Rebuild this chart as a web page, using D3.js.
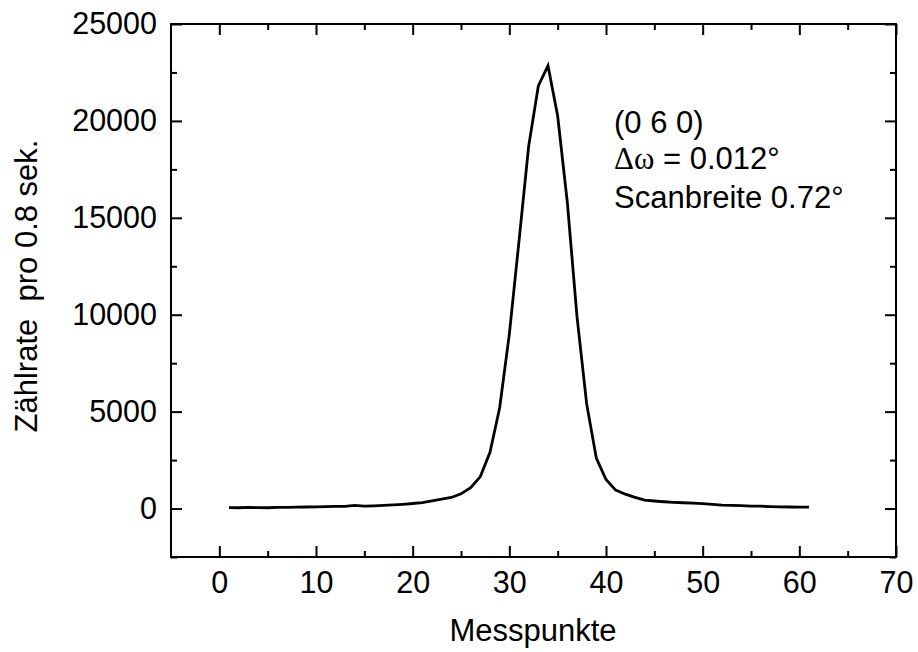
<!DOCTYPE html>
<html>
<head>
<meta charset="utf-8">
<script src="https://cdn.jsdelivr.net/npm/d3@7"></script>
<style>
  body { margin: 0; background: #fff; }
  svg text { font-family: "Liberation Sans", Arial, sans-serif; fill: #000; }
</style>
</head>
<body>
<div id="chart"></div>
<script>

// Messpunkte 1..61
let messpunkte = d3.range(1, 62);
// Zählrate pro 0.8 sek.
let zaehlrate = [
	50, 40, 60, 50, 40, 60, 60, 70, 80, 90,
	100, 110, 110, 160, 120, 140, 160, 190, 220, 260,
	310, 400, 480, 570, 760, 1080, 1650, 2900, 5200, 9000,
	13800, 18700, 21800, 22850, 20250, 15800, 9900, 5400, 2600, 1500,
	950, 740, 580, 430, 390, 350, 320, 300, 280, 250,
	220, 180, 160, 150, 130, 120, 100, 90, 80, 70,
	70
];

let xMajor = [0, 10, 20, 30, 40, 50, 60, 70];
let xMinor = [5, 15, 25, 35, 45, 55, 65];
let yMajor = [0, 5000, 10000, 15000, 20000, 25000];
let yMinor = [-2500, 2500, 7500, 12500, 17500, 22500];

let annotation = ["(0 6 0)", "= 0.012°", "Scanbreite 0.72°"];

let width = 918, height = 652;
let margin = {top: 24, right: 22, bottom: 95, left: 171};
let width_ = width - margin.left - margin.right;
let height_ = height - margin.top - margin.bottom;

let x = d3.scaleLinear().domain([-5, 70]).range([0, width_]);
let y = d3.scaleLinear().domain([-2500, 25000]).range([height_, 0]);

let svg = d3.select("#chart").append("svg")
	.attr("width", width)
	.attr("height", height);

let canvas = svg.append("g")
	.attr("transform", "translate(" + margin.left + "," + margin.top + ")");

function styleAxis(g) {
	g.select(".domain").remove();
	g.selectAll(".tick line").attr("stroke", "#000").attr("stroke-width", 2);
	g.selectAll(".tick text").attr("font-size", 30.5).attr("fill", "#000");
}

// bottom + top
canvas.append("g")
	.attr("transform", "translate(0," + height_ + ")")
	.call(d3.axisBottom(x).tickValues(xMajor).tickSize(-11).tickPadding(14).tickFormat(d3.format("d")))
	.call(styleAxis);
canvas.append("g")
	.attr("transform", "translate(0," + height_ + ")")
	.call(d3.axisBottom(x).tickValues(xMinor).tickSize(-6).tickFormat(""))
	.call(styleAxis);
canvas.append("g")
	.call(d3.axisTop(x).tickValues(xMajor).tickSize(-11).tickFormat(""))
	.call(styleAxis);
canvas.append("g")
	.call(d3.axisTop(x).tickValues(xMinor).tickSize(-6).tickFormat(""))
	.call(styleAxis);

// left + right
canvas.append("g")
	.call(d3.axisLeft(y).tickValues(yMajor).tickSize(-11).tickPadding(14).tickFormat(d3.format("d")))
	.call(styleAxis);
canvas.append("g")
	.call(d3.axisLeft(y).tickValues(yMinor).tickSize(-6).tickFormat(""))
	.call(styleAxis);
canvas.append("g")
	.attr("transform", "translate(" + width_ + ",0)")
	.call(d3.axisRight(y).tickValues(yMajor).tickSize(-11).tickFormat(""))
	.call(styleAxis);
canvas.append("g")
	.attr("transform", "translate(" + width_ + ",0)")
	.call(d3.axisRight(y).tickValues(yMinor).tickSize(-6).tickFormat(""))
	.call(styleAxis);

canvas.append("rect")
	.attr("width", width_)
	.attr("height", height_)
	.attr("fill", "none")
	.attr("stroke", "#000")
	.attr("stroke-width", 2);

let line = d3.line()
	.x((d, i) => x(messpunkte[i]))
	.y(d => y(d));

canvas.append("path")
	.datum(zaehlrate)
	.attr("fill", "none")
	.attr("stroke", "#000")
	.attr("stroke-width", 2.8)
	.attr("stroke-linejoin", "miter")
	.attr("d", line);

// axis titles
svg.append("text")
	.attr("x", 533)
	.attr("y", 641)
	.attr("text-anchor", "middle")
	.attr("font-size", 31)
	.text("Messpunkte");

svg.append("text")
	.attr("transform", "translate(37,286) rotate(-90)")
	.attr("text-anchor", "middle")
	.attr("font-size", 31)
	.attr("xml:space", "preserve")
	.style("white-space", "pre")
	.text("Zählrate  pro 0.8 sek.");

// annotation
let ann = svg.append("text").attr("font-size", 31);
ann.append("tspan").attr("x", 614).attr("y", 133).text(annotation[0]);
let l2 = ann.append("tspan").attr("x", 614).attr("y", 169);
l2.append("tspan").attr("font-family", "'Liberation Serif', serif").text("Δω");
l2.append("tspan").text(" " + annotation[1]);
ann.append("tspan").attr("x", 614).attr("y", 208).text(annotation[2]);

</script>
</body>
</html>
